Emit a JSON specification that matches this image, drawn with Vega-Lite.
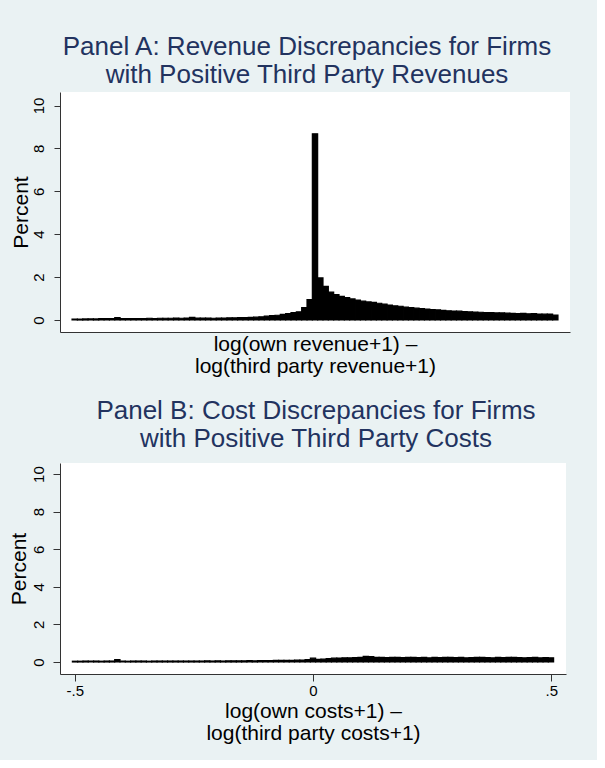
{
  "$schema": "https://vega.github.io/schema/vega-lite/v6.json",
  "background": "#EAF2F3",
  "padding": {"left": 7, "top": 34, "right": 27, "bottom": 16},
  "spacing": 21,
  "config": {
    "font": "Liberation Sans",
    "view": {"stroke": null, "fill": "white"},
    "axis": {"grid": false, "domainColor": "#333333", "tickColor": "#333333", "labelColor": "black", "titleColor": "black", "titleFontWeight": "normal", "labelFont": "Liberation Sans", "titleFont": "Liberation Sans"},
    "title": {"font": "Liberation Sans", "fontWeight": "normal", "color": "#22335f", "anchor": "middle"}
  },
  "datasets": {
    "bins": [
      {"x0": -0.5050, "x1": -0.4939, "a": 0.04, "b": 0.04},
      {"x0": -0.4939, "x1": -0.4828, "a": 0.04, "b": 0.04},
      {"x0": -0.4828, "x1": -0.4717, "a": 0.05, "b": 0.05},
      {"x0": -0.4717, "x1": -0.4606, "a": 0.05, "b": 0.04},
      {"x0": -0.4606, "x1": -0.4495, "a": 0.05, "b": 0.05},
      {"x0": -0.4495, "x1": -0.4384, "a": 0.06, "b": 0.04},
      {"x0": -0.4384, "x1": -0.4273, "a": 0.06, "b": 0.05},
      {"x0": -0.4273, "x1": -0.4162, "a": 0.07, "b": 0.05},
      {"x0": -0.4162, "x1": -0.4051, "a": 0.11, "b": 0.12},
      {"x0": -0.4051, "x1": -0.3940, "a": 0.07, "b": 0.05},
      {"x0": -0.3940, "x1": -0.3829, "a": 0.06, "b": 0.04},
      {"x0": -0.3829, "x1": -0.3718, "a": 0.07, "b": 0.05},
      {"x0": -0.3718, "x1": -0.3607, "a": 0.07, "b": 0.05},
      {"x0": -0.3607, "x1": -0.3496, "a": 0.07, "b": 0.05},
      {"x0": -0.3496, "x1": -0.3385, "a": 0.08, "b": 0.04},
      {"x0": -0.3385, "x1": -0.3274, "a": 0.07, "b": 0.05},
      {"x0": -0.3274, "x1": -0.3163, "a": 0.08, "b": 0.05},
      {"x0": -0.3163, "x1": -0.3052, "a": 0.08, "b": 0.05},
      {"x0": -0.3052, "x1": -0.2941, "a": 0.08, "b": 0.05},
      {"x0": -0.2941, "x1": -0.2830, "a": 0.09, "b": 0.05},
      {"x0": -0.2830, "x1": -0.2719, "a": 0.08, "b": 0.05},
      {"x0": -0.2719, "x1": -0.2608, "a": 0.09, "b": 0.05},
      {"x0": -0.2608, "x1": -0.2497, "a": 0.12, "b": 0.05},
      {"x0": -0.2497, "x1": -0.2386, "a": 0.09, "b": 0.05},
      {"x0": -0.2386, "x1": -0.2275, "a": 0.09, "b": 0.05},
      {"x0": -0.2275, "x1": -0.2164, "a": 0.09, "b": 0.06},
      {"x0": -0.2164, "x1": -0.2053, "a": 0.08, "b": 0.05},
      {"x0": -0.2053, "x1": -0.1942, "a": 0.09, "b": 0.06},
      {"x0": -0.1942, "x1": -0.1831, "a": 0.09, "b": 0.05},
      {"x0": -0.1831, "x1": -0.1720, "a": 0.10, "b": 0.06},
      {"x0": -0.1720, "x1": -0.1609, "a": 0.10, "b": 0.06},
      {"x0": -0.1609, "x1": -0.1498, "a": 0.11, "b": 0.06},
      {"x0": -0.1498, "x1": -0.1387, "a": 0.11, "b": 0.06},
      {"x0": -0.1387, "x1": -0.1276, "a": 0.12, "b": 0.07},
      {"x0": -0.1276, "x1": -0.1165, "a": 0.13, "b": 0.06},
      {"x0": -0.1165, "x1": -0.1054, "a": 0.15, "b": 0.07},
      {"x0": -0.1054, "x1": -0.0943, "a": 0.18, "b": 0.07},
      {"x0": -0.0943, "x1": -0.0832, "a": 0.20, "b": 0.07},
      {"x0": -0.0832, "x1": -0.0721, "a": 0.22, "b": 0.08},
      {"x0": -0.0721, "x1": -0.0610, "a": 0.26, "b": 0.08},
      {"x0": -0.0610, "x1": -0.0499, "a": 0.30, "b": 0.09},
      {"x0": -0.0499, "x1": -0.0388, "a": 0.34, "b": 0.09},
      {"x0": -0.0388, "x1": -0.0277, "a": 0.38, "b": 0.10},
      {"x0": -0.0277, "x1": -0.0166, "a": 0.58, "b": 0.10},
      {"x0": -0.0166, "x1": -0.0055, "a": 0.95, "b": 0.12},
      {"x0": -0.0055, "x1": 0.0055, "a": 8.68, "b": 0.20},
      {"x0": 0.0055, "x1": 0.0166, "a": 1.96, "b": 0.14},
      {"x0": 0.0166, "x1": 0.0277, "a": 1.57, "b": 0.15},
      {"x0": 0.0277, "x1": 0.0388, "a": 1.30, "b": 0.18},
      {"x0": 0.0388, "x1": 0.0499, "a": 1.18, "b": 0.20},
      {"x0": 0.0499, "x1": 0.0610, "a": 1.10, "b": 0.21},
      {"x0": 0.0610, "x1": 0.0721, "a": 1.04, "b": 0.22},
      {"x0": 0.0721, "x1": 0.0832, "a": 0.98, "b": 0.22},
      {"x0": 0.0832, "x1": 0.0943, "a": 0.93, "b": 0.23},
      {"x0": 0.0943, "x1": 0.1054, "a": 0.88, "b": 0.24},
      {"x0": 0.1054, "x1": 0.1165, "a": 0.84, "b": 0.30},
      {"x0": 0.1165, "x1": 0.1276, "a": 0.82, "b": 0.28},
      {"x0": 0.1276, "x1": 0.1387, "a": 0.78, "b": 0.25},
      {"x0": 0.1387, "x1": 0.1498, "a": 0.74, "b": 0.24},
      {"x0": 0.1498, "x1": 0.1609, "a": 0.70, "b": 0.23},
      {"x0": 0.1609, "x1": 0.1720, "a": 0.66, "b": 0.25},
      {"x0": 0.1720, "x1": 0.1831, "a": 0.64, "b": 0.24},
      {"x0": 0.1831, "x1": 0.1942, "a": 0.60, "b": 0.23},
      {"x0": 0.1942, "x1": 0.2053, "a": 0.58, "b": 0.24},
      {"x0": 0.2053, "x1": 0.2164, "a": 0.55, "b": 0.25},
      {"x0": 0.2164, "x1": 0.2275, "a": 0.53, "b": 0.23},
      {"x0": 0.2275, "x1": 0.2386, "a": 0.51, "b": 0.24},
      {"x0": 0.2386, "x1": 0.2497, "a": 0.48, "b": 0.22},
      {"x0": 0.2497, "x1": 0.2608, "a": 0.47, "b": 0.24},
      {"x0": 0.2608, "x1": 0.2719, "a": 0.45, "b": 0.23},
      {"x0": 0.2719, "x1": 0.2830, "a": 0.43, "b": 0.25},
      {"x0": 0.2830, "x1": 0.2941, "a": 0.42, "b": 0.24},
      {"x0": 0.2941, "x1": 0.3052, "a": 0.41, "b": 0.23},
      {"x0": 0.3052, "x1": 0.3163, "a": 0.39, "b": 0.24},
      {"x0": 0.3163, "x1": 0.3274, "a": 0.38, "b": 0.22},
      {"x0": 0.3274, "x1": 0.3385, "a": 0.37, "b": 0.23},
      {"x0": 0.3385, "x1": 0.3496, "a": 0.36, "b": 0.24},
      {"x0": 0.3496, "x1": 0.3607, "a": 0.35, "b": 0.25},
      {"x0": 0.3607, "x1": 0.3718, "a": 0.34, "b": 0.23},
      {"x0": 0.3718, "x1": 0.3829, "a": 0.33, "b": 0.22},
      {"x0": 0.3829, "x1": 0.3940, "a": 0.33, "b": 0.24},
      {"x0": 0.3940, "x1": 0.4051, "a": 0.32, "b": 0.23},
      {"x0": 0.4051, "x1": 0.4162, "a": 0.31, "b": 0.24},
      {"x0": 0.4162, "x1": 0.4273, "a": 0.30, "b": 0.25},
      {"x0": 0.4273, "x1": 0.4384, "a": 0.31, "b": 0.23},
      {"x0": 0.4384, "x1": 0.4495, "a": 0.29, "b": 0.22},
      {"x0": 0.4495, "x1": 0.4606, "a": 0.30, "b": 0.23},
      {"x0": 0.4606, "x1": 0.4717, "a": 0.28, "b": 0.24},
      {"x0": 0.4717, "x1": 0.4828, "a": 0.27, "b": 0.22},
      {"x0": 0.4828, "x1": 0.4939, "a": 0.28, "b": 0.23},
      {"x0": 0.4939, "x1": 0.5050, "a": 0.23, "b": 0.22}
    ]
  },
  "vconcat": [
    {
      "width": 510,
      "height": 240,
      "title": {"text": ["Panel A: Revenue Discrepancies for Firms", "with Positive Third Party Revenues"], "fontSize": 26, "lineHeight": 28, "offset": 4, "dx": -8},
      "data": {"name": "bins"},
      "mark": {"type": "bar", "color": "black", "stroke": "black", "strokeWidth": 1.2},
      "encoding": {
        "x": {"field": "x0", "type": "quantitative", "scale": {"domain": [-0.53, 0.53], "nice": false, "zero": false},
              "axis": {"labels": false, "ticks": false, "title": ["log(own revenue+1) \u2013", "log(third party revenue+1)"], "titleFontSize": 21, "titleLineHeight": 22.5, "titlePadding": 1}},
        "x2": {"field": "x1"},
        "y": {"field": "a", "type": "quantitative", "scale": {"domain": [-0.56, 10.63], "nice": false, "zero": false},
              "axis": {"values": [0, 2, 4, 6, 8, 10], "labelAngle": -90, "labelAlign": "center", "labelBaseline": "alphabetic", "labelFontSize": 15, "labelPadding": 11, "tickSize": 6, "title": "Percent", "titleFontSize": 21, "titlePadding": 0}},
        "y2": {"datum": 0}
      }
    },
    {
      "width": 506,
      "height": 211,
      "title": {"text": ["Panel B: Cost Discrepancies for Firms", "with Positive Third Party Costs"], "fontSize": 26, "lineHeight": 28, "offset": 11, "dx": 3},
      "data": {"name": "bins"},
      "mark": {"type": "bar", "color": "black", "stroke": "black", "strokeWidth": 1.2},
      "encoding": {
        "x": {"field": "x0", "type": "quantitative", "scale": {"domain": [-0.531, 0.531], "nice": false, "zero": false},
              "axis": {"values": [-0.5, 0, 0.5], "labelExpr": "datum.value < 0 ? '-.5' : (datum.value > 0 ? '.5' : '0')", "labelFontSize": 15, "tickSize": 7, "labelPadding": 2, "title": ["log(own costs+1) \u2013", "log(third party costs+1)"], "titleFontSize": 21, "titleLineHeight": 22.5, "titlePadding": 2}},
        "x2": {"field": "x1"},
        "y": {"field": "b", "type": "quantitative", "scale": {"domain": [-0.64, 10.59], "nice": false, "zero": false},
              "axis": {"values": [0, 2, 4, 6, 8, 10], "labelAngle": -90, "labelAlign": "center", "labelBaseline": "alphabetic", "labelFontSize": 15, "labelPadding": 10, "tickSize": 7, "title": "Percent", "titleFontSize": 21, "titlePadding": 2}},
        "y2": {"datum": 0}
      }
    }
  ]
}
